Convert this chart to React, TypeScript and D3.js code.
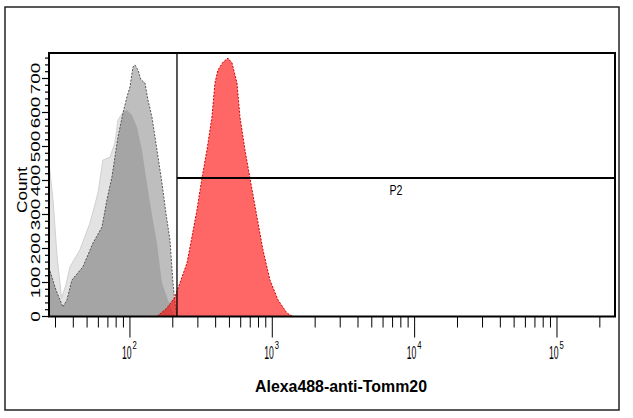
import React from "react";
import * as d3 from "d3";

// Histogram A (light gray, unstained)
const lightValues = [27.0, 28.8, 30.7, 33.1, 35.5, 37.9, 44.5, 52.4, 59.6, 64.6, 72.4, 78.4, 82.4, 89.3, 95.3, 103.3, 112.0, 121.4, 131.6, 142.7, 154.8, 167.8, 184.9, 200.5, 210.5];
const lightCounts = [451, 343, 181, 54, 93, 146, 196, 275, 363, 460, 469, 510, 578, 601, 607, 593, 557, 490, 393, 299, 216, 99, 49, 10, 0];

// Histogram B (gray, dashed outline)
const grayValues = [27.0, 30.2, 33.8, 36.1, 39.1, 46.7, 55.0, 63.6, 68.9, 74.7, 82.4, 89.3, 95.3, 100, 105, 108.4, 113.8, 119.5, 127.5, 133.8, 142.7, 154.8, 167.8, 179.0, 191.0, 200.5, 207.1, 213.9];
const grayCounts = [143, 78, 28, 49, 107, 146, 216, 263, 343, 410, 528, 598, 646, 675, 734, 740, 725, 696, 687, 637, 587, 490, 393, 304, 225, 99, 40, 0];

// Histogram C (red, Alexa488-anti-Tomm20)
const redValues = [154.8, 182.0, 207.1, 224.6, 251.5, 272.6, 295.6, 320.6, 347.5, 376.8, 395.6, 415.3, 450.2, 488.2, 520.8, 564.8, 592.8, 642.7, 696.8, 780.4, 859.9, 962.9, 1096, 1268, 1397];
const redCounts = [0, 25, 57, 99, 157, 234, 313, 407, 490, 587, 687, 725, 748, 760, 746, 687, 587, 490, 407, 293, 196, 107, 49, 10, 0];

const yTickValues = [0, 100, 200, 300, 400, 500, 600, 700];
const xMajorExponents = [2, 3, 4, 5];
const xDomain = [27, 255600];
const yDomain = [0, 775];
const gateName = "P2";
const gateMin = 214;
const gateLevel = 407;
const xTitle = "Alexa488-anti-Tomm20";
const yTitle = "Count";

export default function App() {
  const L = 49, R = 615, T = 53, B = 316.5;
  const x = d3.scaleLog().domain(xDomain).range([L, R]);
  const y = d3.scaleLinear().domain(yDomain).range([B, T]);

  const mk = (vals: number[], cnts: number[]) => vals.map((v, i) => [v, cnts[i]] as [number, number]);
  const area = d3.area<[number, number]>().x(d => x(d[0])).y0(y(0)).y1(d => y(d[1]));
  const line = d3.line<[number, number]>().x(d => x(d[0])).y(d => y(d[1]));

  const A = mk(lightValues, lightCounts);
  const Bd = mk(grayValues, grayCounts);
  const C = mk(redValues, redCounts);

  const minorTicks: number[] = [];
  for (let e = 1; e <= 5; e++) {
    for (let m = 2; m <= 9; m++) {
      const v = m * Math.pow(10, e);
      if (v >= xDomain[0] && v <= xDomain[1]) minorTicks.push(v);
    }
  }
  const yMinor: number[] = [];
  for (let v = 0; v <= yDomain[1]; v += 20) yMinor.push(v);

  return (
    <svg width={633} height={418} style={{ position: "absolute", left: 0, top: 0, background: "#fff" }}
      fontFamily="Arial, 'Liberation Sans', sans-serif">
      <rect x={0} y={0} width={633} height={418} fill="#fff" />
      <rect x={5} y={7} width={614} height={403} fill="none" stroke="#222" strokeWidth={1.5} />
      <defs>
        <clipPath id="clipB">
          <path d={area(Bd) || ""} />
        </clipPath>
        <clipPath id="plotClip">
          <rect x={L} y={T} width={R - L} height={B - T} />
        </clipPath>
      </defs>
      <g clipPath="url(#plotClip)">
        <path d={area(A) || ""} fill="#e3e3e3" stroke="#cfcfcf" strokeWidth={1} />
        <path d={area(Bd) || ""} fill="#bebebe" />
        <path d={area(A) || ""} fill="#a5a5a5" clipPath="url(#clipB)" />
        <path d={line(Bd) || ""} fill="none" stroke="#555" strokeWidth={1} strokeDasharray="2,1.5" />
        <path d={area(C) || ""} fill="#ff0000" fillOpacity={0.6} />
        <path d={line(C) || ""} fill="none" stroke="#cc0000" strokeWidth={1} strokeDasharray="2,1.5" />
      </g>
      {/* gate */}
      <line x1={x(gateMin)} x2={x(gateMin)} y1={T} y2={B} stroke="#000" strokeWidth={1.3} />
      <line x1={x(gateMin)} x2={R} y1={y(gateLevel)} y2={y(gateLevel)} stroke="#000" strokeWidth={2} />
      <text x={(x(gateMin) + R) / 2} y={y(gateLevel) + 17} fontSize={15} textAnchor="middle"
        textLength={13} lengthAdjust="spacingAndGlyphs">{gateName}</text>
      {/* frame */}
      <rect x={L} y={T} width={R - L} height={B - T} fill="none" stroke="#000" strokeWidth={2} />
      {/* x ticks */}
      {minorTicks.map((v, i) => (
        <line key={"mx" + i} x1={x(v)} x2={x(v)} y1={B} y2={B + 11} stroke="#000" strokeWidth={1} />
      ))}
      {xMajorExponents.map(e => {
        const px = x(Math.pow(10, e));
        return (
          <g key={"MX" + e}>
            <line x1={px} x2={px} y1={B} y2={B + 21} stroke="#000" strokeWidth={1} />
            <text transform={`translate(${px - 8},359) scale(0.48,1)`} fontSize={18}>10</text>
            <text transform={`translate(${px + 2.5},349) scale(0.7,1)`} fontSize={11}>{e}</text>
          </g>
        );
      })}
      {/* y ticks */}
      {yMinor.map((v, i) => (
        <line key={"my" + i} x1={L - (v % 100 === 0 ? 7 : 4)} x2={L} y1={y(v)} y2={y(v)} stroke="#000" strokeWidth={1.2} />
      ))}
      {yTickValues.map(v => (
        <text key={"yt" + v} transform={`translate(40,${y(v)}) rotate(-90)`} fontSize={13} textAnchor="middle"
          textLength={String(v).length * 10.5} lengthAdjust="spacingAndGlyphs">{v}</text>
      ))}
      <text transform={`translate(27,190) rotate(-90)`} fontSize={14} textAnchor="middle"
        textLength={46} lengthAdjust="spacingAndGlyphs">{yTitle}</text>
      <text x={341} y={392} fontSize={16} fontWeight="bold" textAnchor="middle"
        textLength={172} lengthAdjust="spacingAndGlyphs">{xTitle}</text>
    </svg>
  );
}
